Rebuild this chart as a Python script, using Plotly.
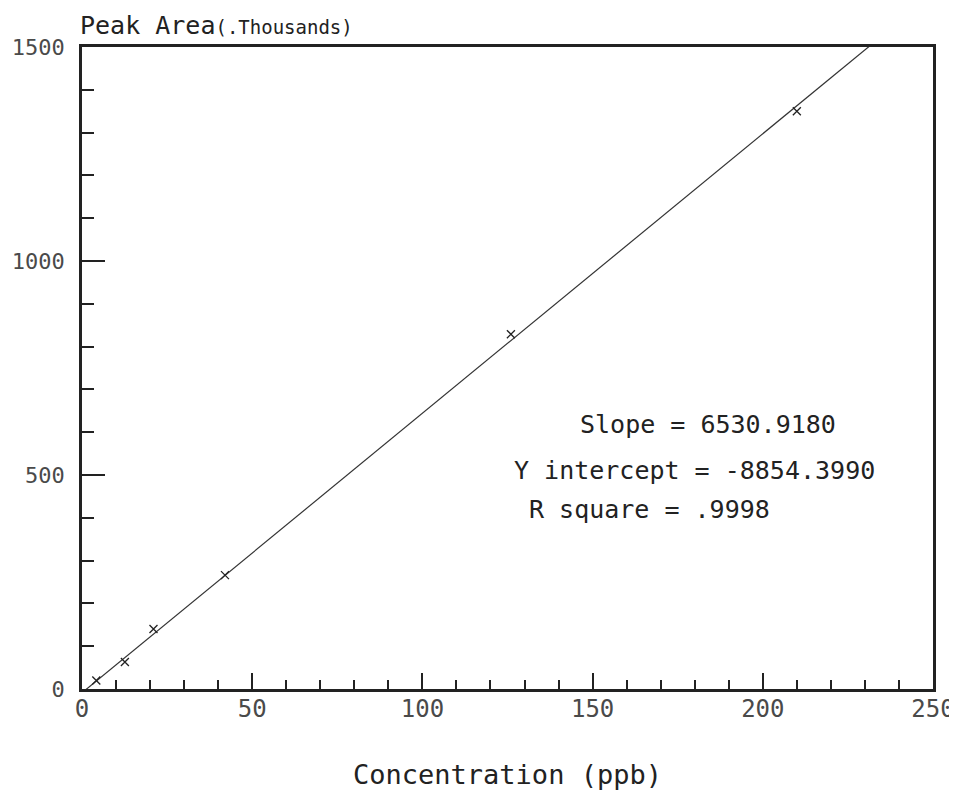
import plotly.graph_objects as go

# Data
concentration = [4.2, 12.6, 21.0, 42.0, 126.0, 210.0]
peak_area_thousands = [20, 63, 140, 266, 829, 1350]
slope = 6530.9180
y_intercept = -8854.3990
r_square = 0.9998
fit_x = [0, 250]
fit_y = [(slope * x + y_intercept) / 1000.0 for x in fit_x]

x_ticks = [0, 50, 100, 150, 200, 250]
y_ticks = [0, 500, 1000, 1500]

FONT = "DejaVu Sans Mono"
INK = "#222222"

# page body has an 8px default margin; compensate so the plot sits where the reference does
L, T, R, B = 74, 39, 24, 103
W, H = 949, 784
PW, PH = W - L - R, H - T - B


def px_to_paper(xp, yp):
    return (xp - 82) / PW, (689 - yp) / PH


fig = go.Figure()
fig.add_trace(go.Scatter(x=fit_x, y=fit_y, mode="lines",
                         line=dict(color="#333333", width=1.2),
                         showlegend=False, hoverinfo="skip"))
fig.add_trace(go.Scatter(x=concentration, y=peak_area_thousands, mode="markers",
                         marker=dict(symbol="x-thin", size=8,
                                     line=dict(color=INK, width=1.3)),
                         showlegend=False))

sx, sy = px_to_paper(578, 424)
ix, iy = px_to_paper(512, 470)
rx, ry = px_to_paper(527, 509)

fig.update_layout(
    width=W, height=H,
    margin=dict(l=L, r=R, t=T, b=B, autoexpand=False),
    paper_bgcolor="white", plot_bgcolor="white",
    font=dict(family=FONT, color=INK, size=20),
    xaxis=dict(range=[0, 250], tickvals=x_ticks, ticktext=[str(v) for v in x_ticks],
               ticks="inside", ticklen=16, tickwidth=1.5, tickcolor=INK,
               minor=dict(dtick=10, tick0=0, ticks="inside", ticklen=9, tickwidth=1.5,
                          tickcolor=INK, showgrid=False),
               showline=True, linecolor=INK, linewidth=2.5, mirror=True,
               showgrid=False, zeroline=False,
               tickfont=dict(family=FONT, size=24, color="#4a4a4a"),
               ticklabelstandoff=-4,
               title=dict(text="Concentration (ppb)", standoff=44,
                          font=dict(family=FONT, size=27, color=INK))),
    yaxis=dict(range=[0, 1500], tickvals=y_ticks, ticktext=[str(v) for v in y_ticks],
               ticks="inside", ticklen=23, tickwidth=1.5, tickcolor=INK,
               minor=dict(dtick=100, tick0=0, ticks="inside", ticklen=12, tickwidth=1.5,
                          tickcolor=INK, showgrid=False),
               showline=True, linecolor=INK, linewidth=2.5, mirror=True,
               showgrid=False, zeroline=False,
               tickfont=dict(family=FONT, size=22, color="#4a4a4a"),
               ticklabelstandoff=10),
    annotations=[
        dict(text="Peak Area<span style='font-size:19px'>(.Thousands)</span>",
             xref="paper", yref="paper", x=0.0, y=1.0, xanchor="left", yanchor="bottom",
             xshift=-4, yshift=5, showarrow=False,
             font=dict(family=FONT, size=25, color=INK)),
        dict(text="Slope = 6530.9180", xref="paper", yref="paper",
             x=sx, y=sy, xanchor="left", yanchor="middle",
             showarrow=False, font=dict(family=FONT, size=25, color=INK)),
        dict(text="Y intercept = -8854.3990", xref="paper", yref="paper",
             x=ix, y=iy, xanchor="left", yanchor="middle",
             showarrow=False, font=dict(family=FONT, size=25, color=INK)),
        dict(text="R square = .9998", xref="paper", yref="paper",
             x=rx, y=ry, xanchor="left", yanchor="middle",
             showarrow=False, font=dict(family=FONT, size=25, color=INK)),
    ],
)

fig.write_html("out.html")
